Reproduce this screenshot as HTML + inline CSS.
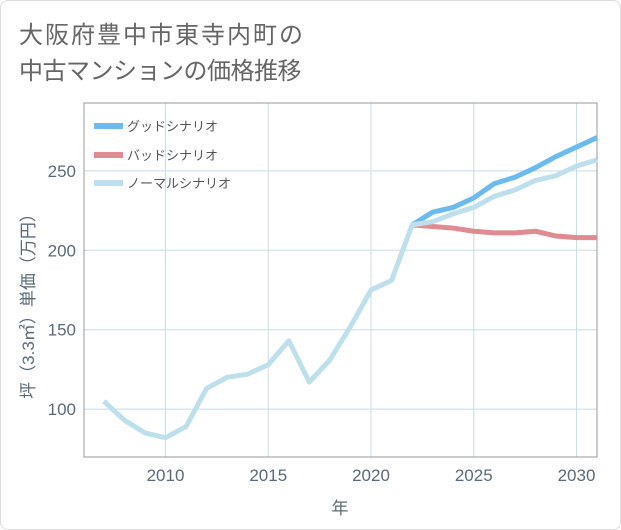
<!DOCTYPE html>
<html><head><meta charset="utf-8"><style>
body{margin:0;background:#fff;}
#wrap{position:relative;width:619px;height:528px;border:1px solid #ddd;border-radius:8px;overflow:hidden;background:#fff;font-family:"Liberation Sans","Noto Sans CJK JP",sans-serif;}
.title{position:absolute;left:18px;font-size:24px;color:#666;white-space:nowrap;}
</style></head><body>
<div id="wrap">
<div class="title" style="top:14px;letter-spacing:2px">大阪府豊中市東寺内町の</div>
<div class="title" style="top:50px;letter-spacing:-0.5px">中古マンションの価格推移</div>
<svg id="chart" width="621" height="530" style="position:absolute;left:-1px;top:-1px"></svg>
</div>
<script>
const years=[2007,2008,2009,2010,2011,2012,2013,2014,2015,2016,2017,2018,2019,2020,2021,2022,2023,2024,2025,2026,2027,2028,2029,2030,2031];
const normal=[105,93,85,82,89,113,120,122,128,143,117,131,152,175,181,216,218,223,227,234,238,244,247,253,257];
const goodYears=[2022,2023,2024,2025,2026,2027,2028,2029,2030,2031];
const good=[216,224,227,233,242,246,252,259,265,271];
const bad=[216,215,214,212,211,211,212,209,208,208];
const xTicks=[2010,2015,2020,2025,2030];
const yTicks=[100,150,200,250];
const L=84,R=597,T=103,B=457;
function X(y){return 165.5+(y-2010)*20.55;}
function Y(v){return 250.3-(v-200)*1.588;}
const svg=document.getElementById('chart');const NS='http://www.w3.org/2000/svg';
function mk(t,a,p){const e=document.createElementNS(NS,t);for(const k in a)e.setAttribute(k,a[k]);(p||svg).appendChild(e);return e;}
yTicks.forEach(v=>{const l=mk('line',{x1:L,x2:R,y1:Y(v),y2:Y(v),stroke:'#c8dde8','stroke-width':1});


const t=mk('text',{x:L-8,y:Y(v)+6,'text-anchor':'end','font-size':17,fill:'#5a6a7a'});t.textContent=v;

});
xTicks.forEach(v=>{const l=mk('line',{x1:X(v),x2:X(v),y1:T,y2:B,stroke:'#c8dde8','stroke-width':1});


const t=mk('text',{x:X(v),y:B+24,'text-anchor':'middle','font-size':17,fill:'#5a6a7a'});t.textContent=v;

});
const fr=mk('rect',{x:L,y:T,width:R-L,height:B-T,fill:'none',stroke:'#999','stroke-width':1});


function line(xs,vs,color,name){const p=mk('polyline',{points:xs.map((y,i)=>X(y)+','+Y(vs[i])).join(' '),fill:'none',stroke:color,'stroke-width':5,'stroke-linejoin':'round'});

}
line(goodYears,good,'#6bbbef','good-scenario-line');
line(goodYears,bad,'#e08a92','bad-scenario-line');
line(years,normal,'#bde0ec','normal-scenario-line');
const leg=[['グッドシナリオ','#6bbbef',126],['バッドシナリオ','#e08a92',155],['ノーマルシナリオ','#bde0ec',183]];
leg.forEach((d,i)=>{const g=mk('g',{});


mk('rect',{x:94,y:d[2]-3,width:29,height:6,fill:d[1]},g);
const t=mk('text',{x:127,y:d[2]+5,'font-size':13,fill:'#555'},g);t.textContent=d[0];});
const yt=mk('text',{transform:'translate(34,302) rotate(-90)','text-anchor':'middle','font-size':17,fill:'#5a6a7a'});yt.textContent='坪（3.3㎡）単価（万円）';


const xt=mk('text',{x:340,y:514,'text-anchor':'middle','font-size':17,fill:'#5a6a7a'});xt.textContent='年';


</script>
</body></html>
